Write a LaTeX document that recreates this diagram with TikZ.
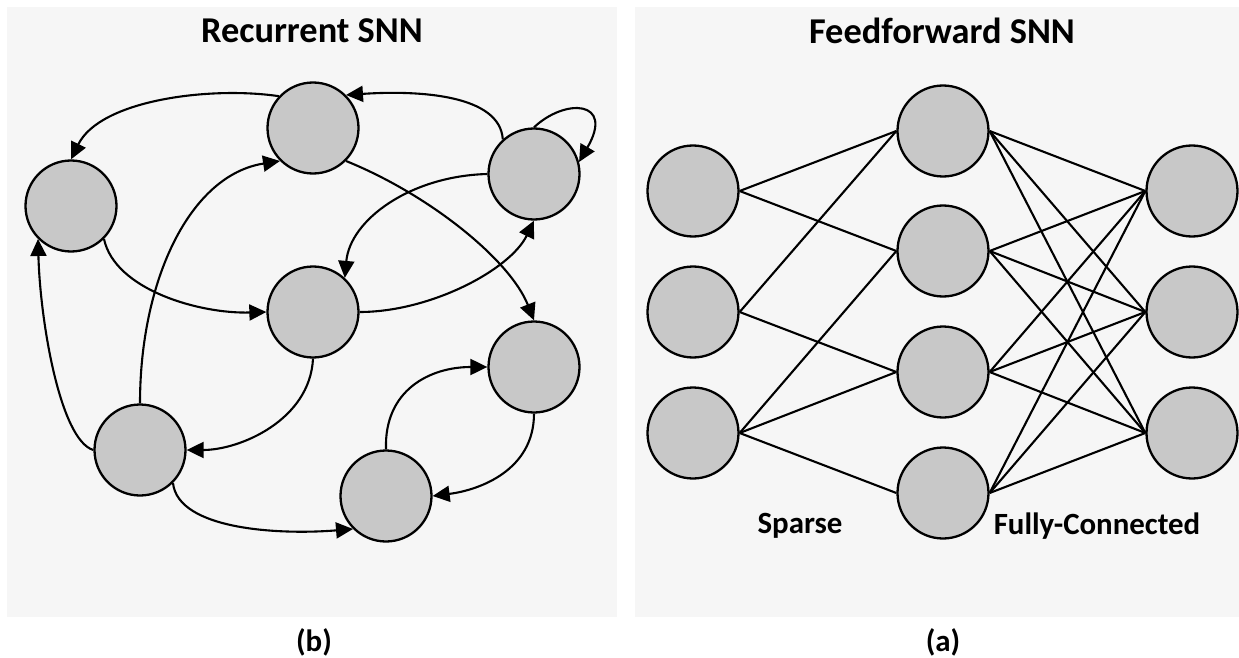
\documentclass[tikz,border=0pt]{standalone}
\usepackage{fontspec}
\setmainfont{Carlito}
\usetikzlibrary{arrows.meta}
\definecolor{panelbg}{HTML}{F6F6F6}
\definecolor{neuronfill}{HTML}{C8C8C8}
\tikzset{
  neuron/.style={circle, draw=black, line width=2.3bp, fill=neuronfill,
                 minimum size=91bp, inner sep=0pt},
  synapse/.style={line width=2.1bp, -{Triangle[length=17bp,width=16bp]}},
  link/.style={line width=2.1bp},
  title/.style={font=\fontsize{36.5}{40}\selectfont\bfseries},
  label/.style={font=\fontsize{31}{34}\selectfont\bfseries},
  panel/.style={fill=panelbg, draw=none}
}
\begin{document}
\begin{tikzpicture}[x=1bp, y=-1bp]
\useasboundingbox (0,0) rectangle (1239,658);
\fill[white] (0,0) rectangle (1239,658);
% panels
\path[panel] (7,7) rectangle (617,617);
\path[panel] (635,7) rectangle (1239,617);

% ---------- recurrent network ----------
\node[title] (rtitle) at (312,31) {Recurrent SNN};
\node[label] (rcap) at (314,642) {(b)};

\node[neuron] (n0) at (71,206) {};
\node[neuron] (n1) at (313,128) {};
\node[neuron] (n2) at (534,174) {};
\node[neuron] (n3) at (313,312) {};
\node[neuron] (n4) at (140,450) {};
\node[neuron] (n5) at (534,367) {};
\node[neuron] (n6) at (386,496) {};

\draw[synapse] (n1.137) .. controls (210,86) and (100,100) .. (n0.north);
\draw[synapse] (n2.132) .. controls (500,95) and (420,90) .. (n1.45);
\draw[synapse] (n2.north) .. controls (565,98) and (615,100) .. (n2.15);
\draw[synapse] (n2.west) .. controls (410,176) and (350,220) .. (n3.47);
\draw[synapse] (n3.east) .. controls (430,312) and (510,270) .. (n2.south);
\draw[synapse] (n0.-45) .. controls (115,290) and (200,314) .. (n3.west);
\draw[synapse] (n1.-45) .. controls (430,195) and (510,260) .. (n5.north);
\draw[synapse] (n4.north) .. controls (140,280) and (190,175) .. (n1.-135);
\draw[synapse] (n4.west) .. controls (60,440) and (40,320) .. (n0.-135);
\draw[synapse] (n3.south) .. controls (310,420) and (240,450) .. (n4.east);
\draw[synapse] (n4.-45) .. controls (178,530) and (280,535) .. (n6.-135);
\draw[synapse] (n6.north) .. controls (384,390) and (430,367) .. (n5.west);
\draw[synapse] (n5.south) .. controls (534,470) and (480,490) .. (n6.east);

% ---------- feedforward network ----------
\node[title] (ftitle) at (942,31) {Feedforward SNN};
\node[label] (fcap) at (943,642) {(a)};

\foreach \i/\y in {1/191,2/312,3/433} {
  \node[neuron] (i\i) at (693,\y) {};
  \node[neuron] (o\i) at (1192,\y) {};
}
\foreach \j/\y in {1/131,2/251,3/372,4/493}
  \node[neuron] (h\j) at (943,\y) {};

% sparse input-to-hidden links
\foreach \a/\b in {1/1,1/2,2/1,2/3,3/2,3/3,3/4}
  \draw[link] (i\a.east) -- (h\b.west);
% fully-connected hidden-to-output links
\foreach \a in {1,...,4}
  \foreach \b in {1,2,3}
    \draw[link] (h\a.east) -- (o\b.west);

\node[label] (sparse) at (800,526) {Sparse};
\node[label] (full) at (1097,526) {Fully-Connected};
\end{tikzpicture}
\end{document}
